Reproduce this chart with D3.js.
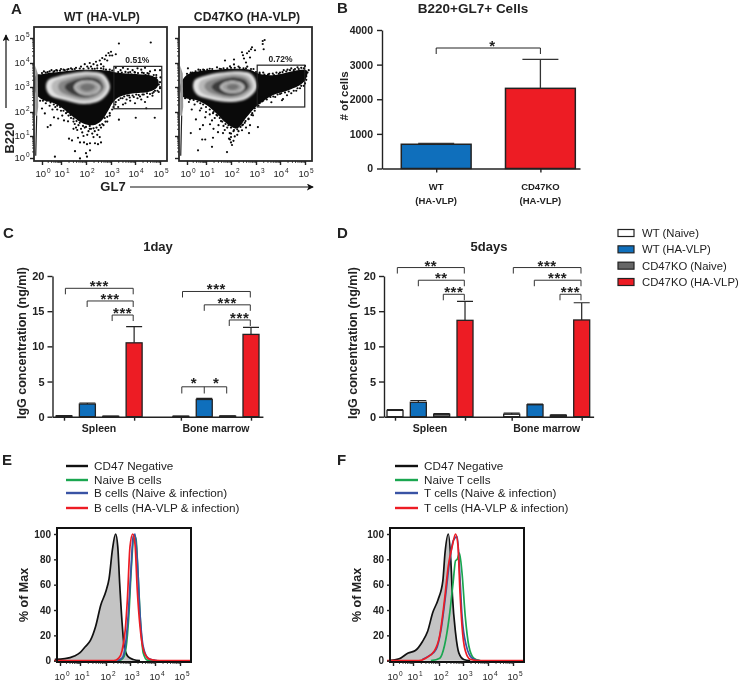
<!DOCTYPE html>
<html lang="en">
<head>
<meta charset="UTF-8">
<title>CD47KO HA-VLP panels</title>
<style>
html, body { margin: 0; padding: 0; background: #fff; }
svg { display: block; filter: blur(0.3px); }
text { font-family: "Liberation Sans", Arial, sans-serif; fill: #222; }
.b { font-weight: bold; }
.axis path, .axis line { stroke: #222; stroke-width: 1.4; fill: none; }
.thin line { stroke: #222; stroke-width: 0.8; }
</style>
</head>
<body>
<script src="https://cdnjs.cloudflare.com/ajax/libs/d3/7.8.5/d3.min.js"></script>
<script>
// flow plots, everything in log10 decades
const decades = [0, 1, 2, 3, 4, 5];
const gates = [
  { label: "0.51%", x0: 3.12, x1: 5.07, y0: 2.13, y1: 3.86 },
  { label: "0.72%", x0: 3.05, x1: 4.99, y0: 2.2, y1: 3.91 }
];
const flowTitles = ["WT (HA-VLP)", "CD47KO (HA-VLP)"];

const envelopeWT = [[-.32,3.49],[-.02,3.53],[.42,3.59],[.86,3.63],[1.23,3.67],[1.63,3.71],[2.03,3.72],[2.49,3.71],[2.89,3.68],[3.16,3.61],[3.63,3.56],[4.16,3.53],[4.63,3.48],[4.93,3.29],[4.89,2.99],[4.56,2.81],[3.89,2.74],[3.36,2.61],[3.09,2.4],[2.89,2.06],[2.63,1.65],[2.29,1.45],[1.89,1.52],[1.49,1.79],[1.09,2.13],[.6,2.36],[-.02,2.51],[-.32,2.74]];
const envelopeKO = [[-.37,3.0],[-.02,3.5],[.68,3.67],[1.43,3.72],[2.09,3.76],[2.76,3.72],[3.09,3.56],[3.69,3.49],[4.36,3.63],[4.89,3.72],[5.09,3.67],[4.96,3.22],[4.36,2.88],[3.69,2.67],[2.99,2.2],[2.63,1.79],[2.23,1.31],[1.83,1.52],[1.43,1.93],[1.03,2.27],[.51,2.47],[-.2,2.6]];

const ringFills = ["#e2e2e2", "#b8b8b8", "#858585", "#3a3a3a", "#d4d4d4", "#a0a0a0", "#727272"];
const ringsWT = [
  [[.21,2.99],[.33,3.29],[.86,3.45],[1.56,3.59],[2.16,3.64],[2.69,3.53],[2.96,2.99],[2.63,2.5],[1.96,2.32],[1.16,2.47],[.42,2.67]],
  [[.5,2.99],[.6,3.22],[1.05,3.38],[1.6,3.5],[2.16,3.55],[2.62,3.44],[2.84,2.99],[2.53,2.58],[1.96,2.43],[1.25,2.56],[.68,2.74]],
  [[.85,2.99],[.92,3.17],[1.22,3.3],[1.66,3.42],[2.16,3.47],[2.55,3.37],[2.74,2.99],[2.45,2.66],[1.96,2.52],[1.38,2.64],[1.0,2.8]],
  [[1.15,2.99],[1.22,3.12],[1.42,3.23],[1.72,3.33],[2.14,3.39],[2.49,3.3],[2.66,2.99],[2.38,2.72],[1.96,2.6],[1.5,2.7],[1.25,2.85]],
  [[1.52,2.99],[1.65,3.18],[2.05,3.27],[2.43,3.18],[2.59,2.99],[2.43,2.77],[2.03,2.67],[1.69,2.77]],
  [[1.57,2.99],[1.71,3.15],[2.05,3.23],[2.39,3.15],[2.53,2.99],[2.39,2.8],[2.03,2.71],[1.73,2.81]],
  [[1.76,2.99],[1.87,3.1],[2.05,3.15],[2.27,3.1],[2.37,2.99],[2.24,2.88],[2.03,2.82],[1.85,2.88]]
];
const ringsKO = [
  [[.32,3.0],[.42,3.3],[.95,3.47],[1.6,3.6],[2.2,3.66],[2.8,3.55],[3.04,3.0],[2.66,2.55],[2.0,2.4],[1.2,2.5],[.52,2.7]],
  [[.6,3.0],[.7,3.24],[1.14,3.4],[1.66,3.52],[2.2,3.57],[2.72,3.44],[2.9,3.0],[2.56,2.62],[2.0,2.5],[1.3,2.6],[.78,2.76]],
  [[.92,3.0],[1.0,3.18],[1.3,3.32],[1.72,3.43],[2.2,3.48],[2.62,3.36],[2.8,3.0],[2.48,2.7],[2.0,2.58],[1.43,2.68],[1.08,2.82]],
  [[1.22,3.0],[1.3,3.13],[1.5,3.25],[1.78,3.34],[2.18,3.39],[2.56,3.28],[2.7,3.0],[2.42,2.76],[2.0,2.66],[1.56,2.74],[1.32,2.87]],
  [[1.56,3.0],[1.72,3.18],[2.1,3.25],[2.42,3.16],[2.54,3.0],[2.4,2.82],[2.06,2.76],[1.74,2.82]],
  [[1.62,3.0],[1.76,3.15],[2.1,3.21],[2.38,3.13],[2.48,3.0],[2.36,2.85],[2.06,2.79],[1.78,2.85]],
  [[1.82,3.0],[1.92,3.09],[2.08,3.12],[2.26,3.08],[2.32,3.0],[2.22,2.92],[2.06,2.88],[1.9,2.92]]
];

const dotsWT = [
  [1.95,3.95],[2.05,3.85],[2.15,4.0],[2.2,3.85],[2.3,3.95],[2.4,4.05],[2.45,3.9],[2.55,4.1],[2.6,3.95],[2.65,4.2],[2.75,4.15],[2.8,4.3],[2.85,4.1],[2.9,4.4],[2.95,4.3],[3.0,4.45],[3.05,4.3],[2.7,3.85],[3.2,4.35],[3.33,4.78],[4.63,4.82],
  [.1,3.65],[.3,3.62],[.5,3.7],[.65,3.66],[.8,3.68],[1.0,3.75],[1.15,3.7],[1.3,3.75],[1.45,3.74],[1.6,3.8],[1.8,3.85],[1.9,3.76],[2.25,3.76],[2.6,3.78],[2.95,3.72],
  [3.2,3.8],[3.3,3.62],[3.4,3.7],[3.5,3.8],[3.6,3.63],[3.7,3.75],[3.8,3.62],[3.9,3.7],[4.0,3.6],[4.1,3.78],[4.25,3.72],[4.35,3.58],[4.4,3.8],[4.5,3.58],[4.6,3.65],[4.8,3.7],[5.0,3.7],[4.75,3.5],
  [3.2,2.4],[3.25,2.62],[3.4,2.55],[3.5,2.3],[3.55,2.62],[3.65,2.5],[3.75,2.66],[3.8,2.45],[3.95,2.6],[4.0,2.35],[4.1,2.55],[4.15,2.68],[4.25,2.5],[4.4,2.4],[4.35,2.7],[4.5,2.6],[4.7,2.65],[3.3,2.2],[4.45,2.15],[3.6,2.35],[5.0,2.95],[5.0,3.2],[4.95,2.8],[4.85,3.5],[4.7,2.75],[4.8,2.85],[5.02,3.4],
  [3.33,1.68],[4.03,1.76],[4.79,1.76],
  [0,2.14],[.15,1.94],[.3,1.37],[.45,1.45],[.63,1.78],[.85,1.73],[1.12,1.65],[1.28,1.61],[1.32,.88],[1.44,.8],[1.68,.92],[1.76,.71],[1.56,.31],[1.92,.71],[2.04,.63],[2.16,.67],[2,.22],[2.16,.35],[2.04,.06],[1.76,-.02],[.68,.06],[2.36,.67],[2.48,.63],[2.6,.71],
  [1.4,1.75],[1.55,1.5],[1.7,1.45],[1.8,1.3],[1.95,1.35],[2.1,1.2],[2.2,1.3],[2.35,1.2],[2.5,1.25],[2.6,1.35],[2.7,1.45],[2.85,1.6],[2.95,1.85],[3.05,2.1],[1.2,1.95],[1.0,2.05],[.7,2.2],[1.5,1.3],[1.65,1.25],[1.85,1.15],[2.05,1.05],[2.25,1.1],[2.45,1.05],[2.15,1.42],[2.3,.95],[1.9,1.0],[2.55,.95],
  [.2,2.35],[.4,2.25],[.55,2.1],[.8,2.1],[1.05,1.85],[1.3,1.85],[1.5,1.6],[2.75,1.75],[2.9,2.2],[1.6,1.35]
];
const fringeWT = [
  [3.15,3.5],[3.3,3.55],[3.45,3.6],[3.58,3.5],[3.72,3.6],[3.85,3.52],[3.98,3.62],[4.12,3.58],[4.28,3.6],[4.42,3.5],[4.55,3.55],[4.68,3.42],[4.85,3.4],[4.95,3.1],[5.0,3.0],[4.9,2.85],[4.75,2.8],[4.6,2.72],[4.48,2.75],[4.3,2.7],[4.2,2.62],[4.05,2.7],[3.9,2.66],[3.78,2.58],[3.68,2.66],[3.48,2.55],[3.32,2.48],[3.18,2.3],[3.1,2.2],
  [2.95,1.95],[2.85,1.8],[2.78,1.6],[2.65,1.5],[2.55,1.45],[2.42,1.35],[2.3,1.32],[2.15,1.3],[2.0,1.38],[1.88,1.42],[1.75,1.55],[1.62,1.62],[1.5,1.72],[1.38,1.88],[1.25,2.0],[1.1,2.05],[.95,2.2],[.8,2.25],[.62,2.3],[.45,2.38],[.25,2.45],[.05,2.45],[-.1,2.45],
  [0,3.58],[.2,3.6],[.4,3.65],[.6,3.62],[.75,3.7],[.95,3.68],[1.1,3.72],[1.25,3.72],[1.4,3.78],[1.55,3.75],[1.75,3.77],[2.1,3.78],[2.35,3.76],[2.45,3.78],[2.7,3.75],[2.8,3.72],[3.05,3.68]
];
const dotsKO = [
  [3.28,4.88],[3.36,4.92],[3.28,4.76],[3.32,4.55],[2.84,4.63],[2.8,4.55],[2.96,4.51],[2.72,4.47],[2.64,4.39],[2.44,4.43],[2.48,4.31],[2.52,4.18],[2.6,4.02],[2.76,4.22],[2.12,4.14],[1.76,4.1],[1.96,3.86],[2.12,3.94],[1.44,3.82],[.05,3.78],[1.6,3.75],[2.3,3.85],[2.65,3.85],
  [.3,3.6],[.6,3.72],[.9,3.7],[1.15,3.76],[1.7,3.78],[2.0,3.8],[2.5,3.78],[2.9,3.75],
  [3.15,3.55],[3.3,3.6],[3.5,3.52],[3.7,3.56],[3.85,3.6],[4.0,3.6],[4.15,3.7],[4.3,3.72],[4.45,3.78],[4.55,3.7],[4.7,3.82],[4.85,3.8],[5.0,3.88],[5.15,3.7],[4.9,3.5],[5.05,3.3],[4.95,3.05],[4.8,2.95],[4.65,2.85],[4.45,2.75],
  [3.24,2.6],[3.64,2.39],[4.08,2.47],[4.28,2.67],[4.12,2.52],[3.4,2.55],[3.8,2.6],[4.0,2.72],[3.55,2.72],[3.15,2.35],[3.3,2.45],
  [.2,1.12],[.68,1.29],[.47,1.69],[.8,.84],[.96,.84],[1.28,.92],[1.24,.51],[.58,.35],[1.84,.27],[2.04,.59],[1.96,.84],[2,.71],[2.72,1.12],[3.08,1.37],[.84,1.45],[1.16,1.49],[1.48,1.16],[1.3,1.3],[1.68,1.12],[2.44,1.24],[2.76,1.45],[2.6,1.35],[2.88,1.86],[.25,2.1],[.68,2.06],[.96,1.78],[1.24,1.65],[1.5,1.45],[1.75,1.25],[1.95,1.12],[2.1,1.2],[2.25,1.05],
  [.1,2.4],[.4,2.3],[.75,2.15],[1.0,2.0],[1.15,1.9],[1.35,1.75],[1.6,1.62],[1.7,1.42],[1.85,1.35],[2.0,1.1],[2.15,.98],[2.3,1.2],[2.45,1.45],[2.55,1.55],[2.7,1.7],[2.85,1.95],[2.95,2.15],[1.45,1.85],[1.3,2.0],[2.0,.95],[1.92,.88],[2.1,.78]
];
const fringeKO = [
  [3.15,3.6],[3.35,3.52],[3.55,3.55],[3.75,3.5],[3.95,3.55],[4.1,3.62],[4.25,3.65],[4.4,3.7],[4.6,3.75],[4.75,3.75],[4.95,3.78],[5.1,3.6],[5.05,3.45],[5.0,3.15],[4.85,3.05],[4.7,2.95],[4.55,2.85],[4.35,2.82],[4.2,2.78],[4.05,2.75],[3.9,2.7],[3.72,2.62],[3.6,2.6],[3.45,2.5],[3.25,2.42],[3.1,2.25],
  [2.95,2.05],[2.82,1.88],[2.7,1.72],[2.58,1.62],[2.48,1.48],[2.38,1.38],[2.25,1.28],[2.12,1.25],[2.0,1.35],[1.9,1.45],[1.78,1.5],[1.65,1.6],[1.55,1.75],[1.42,1.88],[1.28,1.95],[1.15,2.1],[1.0,2.2],[.85,2.3],[.7,2.35],[.55,2.42],[.35,2.48],[.15,2.5],[-.1,2.55],
  [0,3.55],[.2,3.6],[.45,3.65],[.7,3.7],[.85,3.72],[1.05,3.72],[1.25,3.75],[1.55,3.76],[1.85,3.78],[2.15,3.8],[2.35,3.8],[2.6,3.78],[2.8,3.75],[3.0,3.62]
];
const streakGrey = [[-.36,3.9],[-.22,3.55],[-.2,2.2],[-.26,1.85],[-.36,1.85]];
const streakLine = [[-.28,1.85],[-.3,1.2],[-.33,.1]];

// panel B
const cellCats = ["WT|(HA-VLP)", "CD47KO|(HA-VLP)"];
const cellVals = [700, 2315];
const cellErrs = [725, 3150];
const cellColors = ["#0f6fbc", "#ed1c24"];
const cellTicks = [0, 1000, 2000, 3000, 4000];

// panels C and D, slots 0-3 spleen, 5-8 bone marrow
const slots = [0, 1, 2, 3, 5, 6, 7, 8];
const groupNames = ["Spleen", "Bone marrow"];
const seriesNames = ["WT (Naive)", "WT (HA-VLP)", "CD47KO (Naive)", "CD47KO (HA-VLP)"];
const seriesColors = ["#fff", "#0f6fbc", "#666", "#ed1c24"];
const igg1Vals = [.1, 1.8, .05, 10.5, .05, 2.45, .08, 11.7];
const igg1Errs = [.15, 1.95, .08, 12.8, .08, 2.6, .12, 12.7];
const igg5Vals = [.9, 2.05, .35, 13.7, .35, 1.7, .2, 13.75];
const igg5Errs = [1.0, 2.3, .45, 16.4, .5, 1.8, .25, 16.2];
const iggTicks = [0, 5, 10, 15, 20];
// from slot, to slot, level, stars
const igg1Brackets = [[.06,2.96,18.25,"***"],[.99,2.96,16.45,"***"],[2.06,2.96,14.45,"***"],[5.07,7.97,17.8,"***"],[6,7.97,15.9,"***"],[7.07,7.97,13.75,"***"]];
const igg5Brackets = [[.1,2.97,21.2,"**"],[1,2.97,19.4,"**"],[2.07,2.97,17.4,"***"],[5.07,7.97,21.2,"***"],[5.97,7.97,19.4,"***"],[7.07,7.97,17.4,"***"]];

// panels E and F histograms, [decade, % of max]
const histNames = ["CD47 Negative", "Naive B cells", "B cells (Naive & infection)", "B cells (HA-VLP & infection)"];
const histNamesT = ["CD47 Negative", "Naive T cells", "T cells (Naive & infection)", "T cells (HA-VLP & infection)"];
const histColors = ["#111", "#1aa650", "#3953a4", "#ed1c24"];
const histTicks = [0, 20, 40, 60, 80, 100];
const negE = [[-.26,1],[.25,1.6],[.72,3.7],[1,6.3],[1.2,11],[1.4,16],[1.6,27],[1.8,44],[2,55],[2.13,65],[2.27,88],[2.4,100],[2.49,90],[2.57,61],[2.67,30],[2.76,11],[2.93,3],[3.13,1],[3.4,0]];
const greenE = [[2.53,0],[2.71,2],[2.84,11],[2.95,35],[3.05,72],[3.16,99],[3.24,96],[3.32,69],[3.43,27],[3.53,6],[3.69,.5],[4,0]];
const blueE = [[2.47,0],[2.67,2],[2.8,11],[2.91,32],[3.03,69],[3.13,98],[3.2,100],[3.29,80],[3.4,37],[3.53,11],[3.73,2],[4.07,0]];
const redE = [[-.3,0],[2.33,0],[2.53,2],[2.67,8],[2.8,24],[2.89,48],[3,90],[3.11,100],[3.2,92],[3.29,56],[3.4,27],[3.56,7],[3.8,1],[4.2,0],[5.44,0]];
const negF = [[-.2,0],[.31,1.5],[.76,6],[1.09,8],[1.36,15],[1.56,23],[1.76,38],[1.96,48],[2.16,63],[2.25,85],[2.39,100],[2.49,80],[2.56,51],[2.69,22],[2.83,6],[3.03,1],[3.29,0]];
const greenF = [[1.69,0],[2.03,2],[2.23,12],[2.43,35],[2.59,62],[2.69,79],[2.76,80],[2.85,85],[2.96,69],[3.09,35],[3.23,12],[3.43,2],[3.69,0]];
const blueF = [[1.36,1],[1.63,4],[1.89,9],[2.09,25],[2.29,54],[2.43,77],[2.6,95],[2.76,98],[2.87,67],[2.96,35],[3.13,12],[3.36,2],[3.63,0]];
const redF = [[-.3,0],[1.23,0],[1.49,2],[1.83,8],[2.03,20],[2.23,48],[2.39,75],[2.56,91],[2.69,100],[2.79,91],[2.87,56],[2.96,27],[3.09,8],[3.29,1],[3.69,0],[5.47,0]];

const svg = d3.select("body").append("svg").attr("width", 740).attr("height", 683);

function label(x, y, str, size, cls, anchor) {
  return svg.append("text").attr("x", x).attr("y", y).attr("font-size", size)
    .attr("class", cls || null).attr("text-anchor", anchor || "middle").text(str);
}
function vlabel(x, y, str, size) {
  return svg.append("text").attr("transform", `translate(${x},${y}) rotate(-90)`)
    .attr("font-size", size).attr("class", "b").attr("text-anchor", "middle").text(str);
}
function powLabel(g, x, y, e) {
  const t = g.append("text").attr("x", x).attr("y", y).attr("font-size", 9.5).attr("text-anchor", "middle");
  t.append("tspan").text("10");
  t.append("tspan").attr("dy", -4).attr("dx", 1).attr("font-size", 6.5).text(e);
}
const minorTicks = decades.slice(0, -1).flatMap(d => d3.range(2, 10).map(m => d + Math.log10(m)));

[["A", 11, 14], ["B", 337, 13], ["C", 3, 238], ["D", 337, 238], ["E", 2, 465], ["F", 337, 465]]
  .forEach(l => label(l[1], l[2], l[0], 15, "b", "start"));

const defs = svg.append("defs");
defs.append("filter").attr("id", "soft").append("feGaussianBlur").attr("stdDeviation", 0.9);

// A
function flowPanel(dx, env, rings, dots, gate, title, withY) {
  const x = d3.scaleLinear().domain(decades).range([42, 61, 86, 111, 135, 160].map(v => v + dx));
  const y = d3.scaleLinear().domain(decades).range([158, 136, 112, 87, 63, 38]);
  const g = svg.append("g");
  const blob = d3.line().x(d => x(d[0])).y(d => y(d[1])).curve(d3.curveCatmullRomClosed);
  g.append("path").attr("d", blob(env)).attr("fill", "#0a0a0a");
  g.selectAll("circle").data(dots).join("circle")
    .attr("cx", d => x(d[0])).attr("cy", d => y(d[1])).attr("r", 1.1).attr("fill", "#0a0a0a");
  const contour = g.append("g").attr("filter", "url(#soft)");
  contour.selectAll("path").data(rings).join("path")
    .attr("d", d => blob(d)).attr("fill", (d, i) => ringFills[i]);
  const straight = d3.line().x(d => x(d[0])).y(d => y(d[1]));
  g.append("path").attr("d", straight(streakGrey) + "Z").attr("fill", "#999");
  g.append("path").attr("d", straight(streakLine)).attr("fill", "none").attr("stroke", "#222").attr("stroke-width", 1.2);
  g.append("rect").attr("x", x(gate.x0)).attr("y", y(gate.y1))
    .attr("width", x(gate.x1) - x(gate.x0)).attr("height", y(gate.y0) - y(gate.y1))
    .attr("fill", "none").attr("stroke", "#222").attr("stroke-width", 1.2);
  label(x((gate.x0 + gate.x1) / 2), y(gate.y1) - 3, gate.label, 8.5, "b");
  g.append("rect").attr("x", 34 + dx).attr("y", 27).attr("width", 133).attr("height", 134)
    .attr("fill", "none").attr("stroke", "#2a2a2a").attr("stroke-width", 1.8);
  label(x(2) + 16, 21, title, 12.2, "b");

  const bot = g.append("g").attr("class", "axis").attr("transform", "translate(0,161)");
  bot.call(d3.axisBottom(x).tickValues(decades).tickFormat("").tickSize(4)).select(".domain").remove();
  const botMinor = g.append("g").attr("class", "axis thin").attr("transform", "translate(0,161)");
  botMinor.call(d3.axisBottom(x).tickValues(minorTicks).tickFormat("").tickSize(2)).select(".domain").remove();
  const left = g.append("g").attr("class", "axis").attr("transform", `translate(${34 + dx},0)`);
  left.call(d3.axisLeft(y).tickValues(decades).tickFormat("").tickSize(4)).select(".domain").remove();
  const leftMinor = g.append("g").attr("class", "axis thin").attr("transform", `translate(${34 + dx},0)`);
  leftMinor.call(d3.axisLeft(y).tickValues(minorTicks).tickFormat("").tickSize(2)).select(".domain").remove();
  decades.forEach(e => powLabel(g, x(e) + 1, 177, e));
  if (withY) decades.forEach(e => powLabel(g, 22, y(e) + 3, e));
}
flowPanel(0, envelopeWT, ringsWT, dotsWT.concat(fringeWT), gates[0], flowTitles[0], true);
flowPanel(145, envelopeKO, ringsKO, dotsKO.concat(fringeKO), gates[1], flowTitles[1], false);
vlabel(14, 138, "B220", 13);
label(113, 191, "GL7", 13, "b");
defs.append("marker").attr("id", "head").attr("viewBox", "0 0 8 8").attr("refX", 7).attr("refY", 4)
  .attr("markerWidth", 7).attr("markerHeight", 7).attr("markerUnits", "userSpaceOnUse").attr("orient", "auto")
  .append("path").attr("d", "M0,0L8,4L0,8L2,4Z").attr("fill", "#111");
svg.append("line").attr("x1", 130).attr("x2", 313).attr("y1", 187).attr("y2", 187)
  .attr("stroke", "#111").attr("stroke-width", 1.2).attr("marker-end", "url(#head)");
svg.append("line").attr("x1", 6).attr("x2", 6).attr("y1", 108).attr("y2", 35)
  .attr("stroke", "#111").attr("stroke-width", 1.2).attr("marker-end", "url(#head)");

// B
{
  const x = d3.scaleLinear().domain([-.52, 1.38]).range([382, 580]);
  const y = d3.scaleLinear().domain([0, 4000]).range([168.5, 30]);
  const bw = x(.335) - x(0);
  svg.selectAll(".cell").data(cellVals).join("rect").attr("class", "cell")
    .attr("x", (d, i) => x(i) - bw).attr("width", bw * 2)
    .attr("y", d => y(d)).attr("height", d => y(0) - y(d))
    .attr("fill", (d, i) => cellColors[i]).attr("stroke", "#222").attr("stroke-width", 1.5);
  cellErrs.forEach((e, i) => {
    svg.append("path").attr("d", `M${x(i)},${y(cellVals[i])}V${y(e)}M${x(i) - 18},${y(e)}H${x(i) + 18}`)
      .attr("fill", "none").attr("stroke", "#333").attr("stroke-width", 1.3);
  });
  svg.append("g").attr("class", "axis").attr("transform", "translate(0,168.5)")
    .call(d3.axisBottom(x).tickValues([0, 1]).tickFormat("").tickSize(4).tickSizeOuter(0));
  const ax = svg.append("g").attr("class", "axis").attr("transform", "translate(382,0)")
    .call(d3.axisLeft(y).tickValues(cellTicks).tickFormat(d3.format("d")).tickSize(5).tickSizeOuter(0));
  ax.selectAll("text").attr("class", "b").attr("font-size", 10.5).attr("font-family", null).attr("dx", -1);
  cellCats.forEach((c, i) => c.split("|").forEach((s, j) => label(x(i), 190 + j * 14, s, 9.5, "b")));
  svg.append("path").attr("d", `M${x(0)},54V48H${x(1)}V54`).attr("fill", "none").attr("stroke", "#222").attr("stroke-width", 1);
  label((x(0) + x(1)) / 2 + 4, 51, "*", 15, "b");
  label(473, 13, "B220+GL7+ Cells", 13.5, "b");
  vlabel(348, 96, "# of cells", 11.5);
}

// C, D
function iggPanel(axisX, first, last, vals, errs, brackets, title, titleX) {
  const step = (last - first) / 8;
  const x = d3.scaleLinear().domain([-.51, 8.51]).range([first - .51 * step, last + .51 * step]);
  const y = d3.scaleLinear().domain([0, 20]).range([416.7, 276]);
  const bw = 8;
  svg.append("g").selectAll("rect").data(vals).join("rect")
    .attr("x", (d, i) => x(slots[i]) - bw).attr("width", bw * 2)
    .attr("y", d => y(d)).attr("height", d => y(0) - y(d))
    .attr("fill", (d, i) => seriesColors[i % 4]).attr("stroke", "#222").attr("stroke-width", 1.3);
  errs.forEach((e, i) => {
    const cx = x(slots[i]);
    svg.append("path").attr("d", `M${cx},${y(vals[i])}V${y(e)}M${cx - 8},${y(e)}H${cx + 8}`)
      .attr("fill", "none").attr("stroke", "#222").attr("stroke-width", 1.2);
  });
  const bot = d3.scaleLinear().domain(x.domain()).range([axisX, x.range()[1]]);
  svg.append("g").attr("class", "axis").attr("transform", "translate(0,416.7)")
    .call(d3.axisBottom(bot).tickValues([]).tickSizeOuter(0));
  svg.append("g").attr("class", "axis").attr("transform", "translate(0,416.7)")
    .call(d3.axisBottom(x).tickValues([0, 3, 5, 8]).tickFormat("").tickSize(4)).select(".domain").remove();
  const ax = svg.append("g").attr("class", "axis").attr("transform", `translate(${axisX},0)`)
    .call(d3.axisLeft(y).tickValues(iggTicks).tickSize(5).tickSizeOuter(0));
  ax.selectAll("text").attr("class", "b").attr("font-size", 11).attr("font-family", null);
  label(x(1.5), 432, groupNames[0], 10.5, "b");
  label(x(6.5), 432, groupNames[1], 10.5, "b");
  label(titleX, 251, title, 13, "b");
  vlabel(axisX - 27, 343, "IgG concentration (ng/ml)", 12.5);
  brackets.forEach(b => {
    const top = y(b[2]);
    svg.append("path").attr("d", `M${x(b[0])},${top + 6}V${top}H${x(b[1])}V${top + 6}`)
      .attr("fill", "none").attr("stroke", "#333").attr("stroke-width", 1);
    label((x(b[0]) + x(b[1])) / 2, top + 3, b[3], 15, "b").attr("letter-spacing", 0.6);
  });
  return { x, y };
}
const c = iggPanel(52.5, 64, 251, igg1Vals, igg1Errs, igg1Brackets, "1day", 158);
iggPanel(384, 395, 581.7, igg5Vals, igg5Errs, igg5Brackets, "5days", 489);
// the two single-star comparisons around WT (HA-VLP) in bone marrow
svg.append("path").attr("d", `M${c.x(5.04)},${c.y(3.3)}V${c.y(4.25)}H${c.x(6.96)}V${c.y(3.3)}M${c.x(6)},${c.y(4.25)}V${c.y(3.3)}`)
  .attr("fill", "none").attr("stroke", "#333").attr("stroke-width", 1);
label(c.x(5.55), c.y(4.25) + 1, "*", 15, "b");
label(c.x(6.5), c.y(4.25) + 1, "*", 15, "b");

// legend
const legY = d3.scalePoint().domain(seriesNames).range([233, 282]);
seriesNames.forEach((s, i) => {
  svg.append("rect").attr("x", 618).attr("y", legY(s) - 3.5).attr("width", 16).attr("height", 7)
    .attr("fill", seriesColors[i]).attr("stroke", "#222").attr("stroke-width", 1.2);
  label(642, legY(s) + 4, s, 11.3, null, "start");
});

// E, F
function histPanel(dx, neg, green, blue, red, names, axisLabelX) {
  const x = d3.scaleLinear().domain(decades).range([60, 80, 106, 130, 155, 180].map(v => v + dx));
  const y = d3.scaleLinear().domain([0, 100]).range([660.7, 534]);
  const line = d3.line().x(d => x(d[0])).y(d => y(d[1])).curve(d3.curveMonotoneX);
  const area = d3.area().x(d => x(d[0])).y0(y(0)).y1(d => y(d[1])).curve(d3.curveMonotoneX);
  svg.append("path").attr("d", area(neg)).attr("fill", "#c4c4c4");
  [neg, green, blue, red].forEach((h, i) => {
    svg.append("path").attr("d", line(h)).attr("fill", "none").attr("stroke", histColors[i]).attr("stroke-width", 1.7);
  });
  svg.append("rect").attr("x", 57 + dx).attr("y", 528).attr("width", 134).attr("height", 134)
    .attr("fill", "none").attr("stroke", "#111").attr("stroke-width", 2);
  const g = svg.append("g");
  g.append("g").attr("class", "axis").attr("transform", "translate(0,662)")
    .call(d3.axisBottom(x).tickValues(decades).tickFormat("").tickSize(4)).select(".domain").remove();
  g.append("g").attr("class", "axis thin").attr("transform", "translate(0,662)")
    .call(d3.axisBottom(x).tickValues(minorTicks).tickFormat("").tickSize(2)).select(".domain").remove();
  decades.forEach(e => powLabel(g, x(e) + 2, 680, e));
  const ax = g.append("g").attr("class", "axis").attr("transform", `translate(${57 + dx},0)`)
    .call(d3.axisLeft(y).tickValues(histTicks).tickSize(3).tickSizeOuter(0));
  ax.select(".domain").remove();
  ax.selectAll("text").attr("class", "b").attr("font-size", 10).attr("font-family", null);
  vlabel(axisLabelX, 595, "% of Max", 12.5);
  const rows = [466, 480, 493, 508];
  names.forEach((n, i) => {
    svg.append("line").attr("x1", 66 + dx - (dx ? 4 : 0)).attr("x2", 88 + dx - (dx ? 3 : 0)).attr("y1", rows[i]).attr("y2", rows[i])
      .attr("stroke", histColors[i]).attr("stroke-width", 2.4);
    label(94 + dx - (dx ? 3 : 0), rows[i] + 4, n, 11.7, null, "start");
  });
}
histPanel(0, negE, greenE, blueE, redE, histNames, 28);
histPanel(333, negF, greenF, blueF, redF, histNamesT, 361);
</script>
</body>
</html>
